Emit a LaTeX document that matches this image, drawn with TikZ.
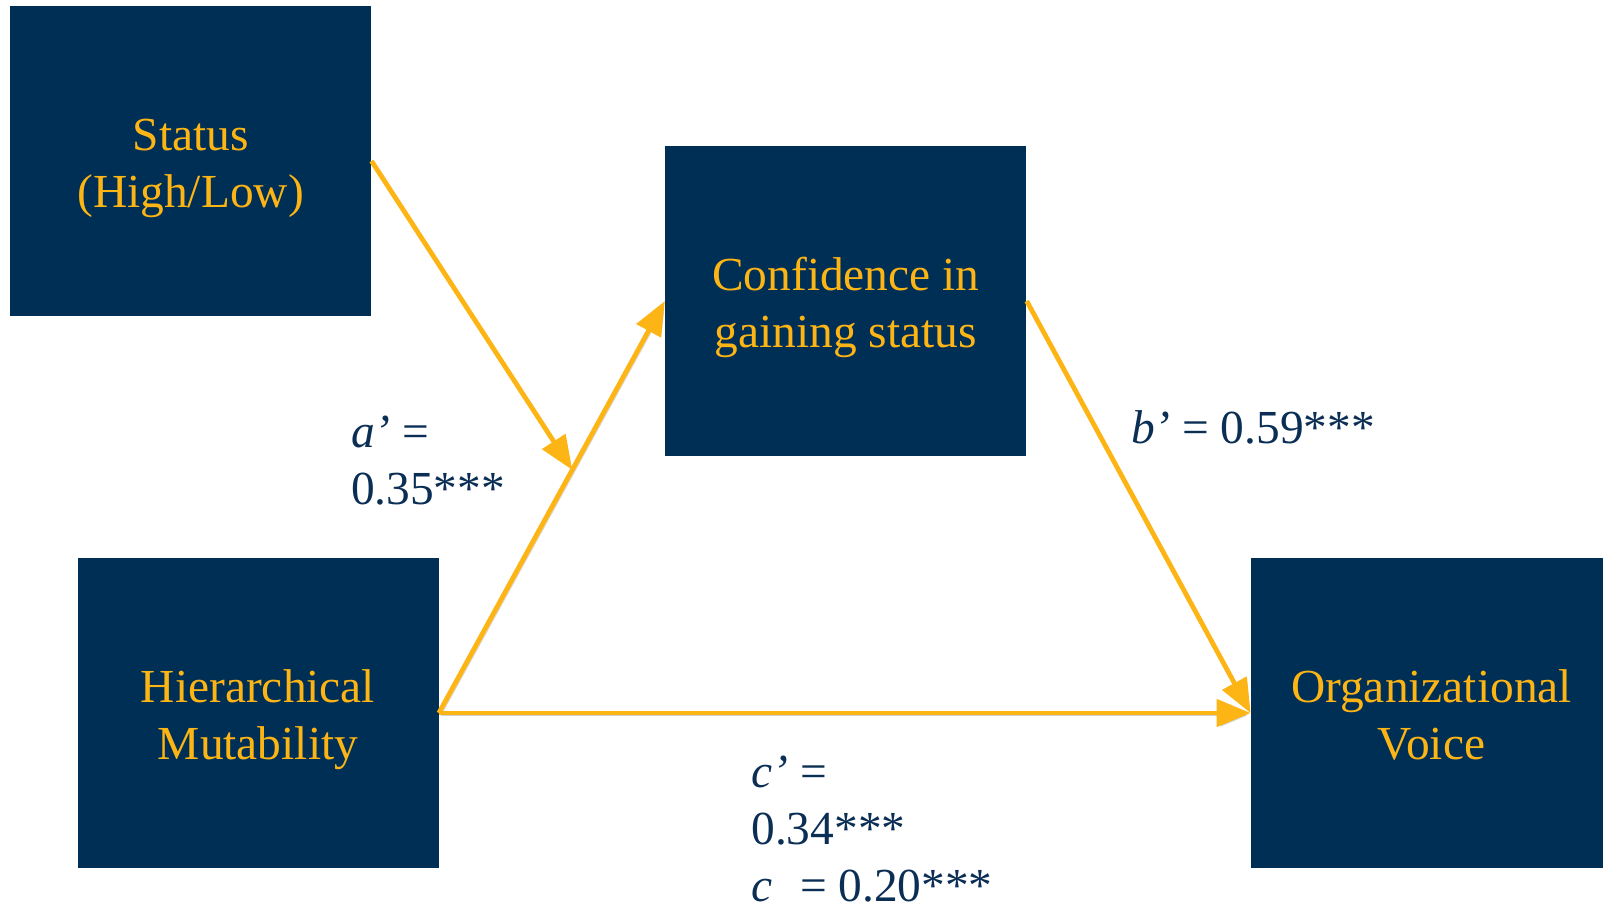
\documentclass[tikz,border=0pt]{standalone}
\usepackage{fontspec}
\setmainfont{Liberation Serif}
\usetikzlibrary{arrows.meta,calc,positioning}
\definecolor{navy}{HTML}{002F56}
\definecolor{gold}{HTML}{FDB515}
\definecolor{ink}{HTML}{0B2E55}
\newcommand\topgap{\rule{0pt}{23pt}}
\newcommand\botgap{\rule[-5.3pt]{0pt}{5.3pt}}

\begin{document}
\begin{tikzpicture}[x=0.5pt,y=-0.5pt,
  var/.style={rectangle,fill=navy,text=gold,minimum width=180.5pt,minimum height=155pt,inner sep=0pt,align=center,
    font=\fontsize{23.7}{28.7}\selectfont},
  link/.style={-{Triangle[length=17pt,width=13.5pt]},line width=2.4pt,draw=gold,
    preaction={draw=black!18,transform canvas={shift={(1pt,-1.2pt)}}}},
  coef/.style={text=ink,align=left,anchor=west,inner sep=0pt,font=\fontsize{23.7}{28.6}\selectfont}]
\clip (0,0) rectangle (1603,906);
% variables
\node[var] (status) at (190.6,161) {\topgap Status\\(High/Low)\botgap};
\node[var] (conf) at (845.8,301) {\topgap Confidence in\\gaining status\botgap};
\node[var] (hier) at (258,713) {\topgap Hierarchical\\Mutability\botgap};
\node[var] (voice) at (1431.5,713) {\topgap Organizational\\Voice\botgap};
% paths
\coordinate (meet) at ($(hier.east)!0.59!(conf.west)$);
\draw[link] (hier.east) -- (conf.west);
\draw[link] (status.east) -- (meet);
\draw[link] (conf.east) -- (voice.west);
\draw[link] (hier.east) -- (voice.west);
% coefficients
\node[coef] (ca) at (350.6,460.5) {\textit{a’} =\\0.35***};
\node[coef] (cb) at (1130.6,427) {\textit{b’} = 0.59***};
\node[coef] (cc) at (751,829) {\textit{c’} =\\0.34***\\\textit{c}\phantom{’} = 0.20***};
\end{tikzpicture}
\end{document}
